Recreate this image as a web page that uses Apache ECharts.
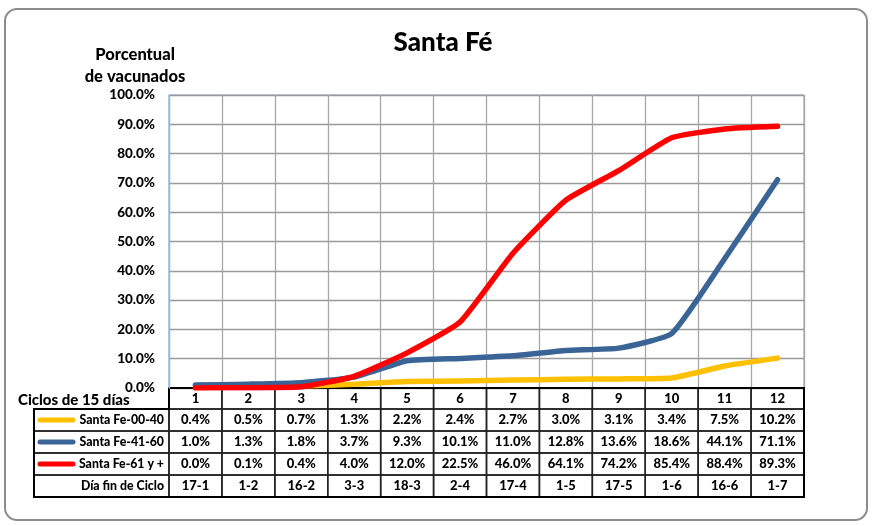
<!DOCTYPE html>
<html>
<head>
<meta charset="utf-8">
<script src="https://cdn.jsdelivr.net/npm/echarts@6/dist/echarts.min.js"></script>
<style>
  html, body { margin: 0; padding: 0; background: #fff; }
  #chart { width: 872px; height: 526px; }
</style>
</head>
<body>
<div id="chart"></div>
<script>
// datos
const ciclos = ['1', '2', '3', '4', '5', '6', '7', '8', '9', '10', '11', '12'];
const diaFinCiclo = ['17-1', '1-2', '16-2', '3-3', '18-3', '2-4', '17-4', '1-5', '17-5', '1-6', '16-6', '1-7'];
const santaFe0040 = [0.4, 0.5, 0.7, 1.3, 2.2, 2.4, 2.7, 3.0, 3.1, 3.4, 7.5, 10.2];
const santaFe4160 = [1.0, 1.3, 1.8, 3.7, 9.3, 10.1, 11.0, 12.8, 13.6, 18.6, 44.1, 71.1];
const santaFe61 = [0.0, 0.1, 0.4, 4.0, 12.0, 22.5, 46.0, 64.1, 74.2, 85.4, 88.4, 89.3];
const serieNames = ['Santa Fe-00-40', 'Santa Fe-41-60', 'Santa Fe-61 y +'];
const serieColors = ['#FFC000', '#3A6496', '#FF0000'];
const yMin = 0, yMax = 100, yStep = 10;

const FONT = 'Lato';
const W = 900;
const gridL = 169, gridR = 804, gridT = 95, gridB = 388;

const chart = echarts.init(document.getElementById('chart'));

const allSeries = [santaFe0040, santaFe4160, santaFe61];

chart.setOption({
  animation: false,
  backgroundColor: '#fff',
  title: {
    text: 'Santa Fé',
    left: 438,
    top: 25,
    textAlign: 'center',
    textStyle: { fontFamily: FONT, fontSize: 26, fontWeight: W, color: '#000' }
  },
  grid: {
    left: gridL,
    right: 872 - gridR,
    top: gridT,
    bottom: 526 - gridB,
    show: true,
    borderColor: '#7f9cc8',
    borderWidth: 1
  },
  xAxis: {
    type: 'category',
    data: ciclos,
    boundaryGap: true,
    axisLine: { show: false },
    axisTick: { show: false },
    axisLabel: { show: false },
    splitLine: { show: true, lineStyle: { color: '#a6a6a6', width: 1.3 } }
  },
  yAxis: {
    type: 'value',
    min: yMin,
    max: yMax,
    interval: yStep,
    axisLine: { show: true, lineStyle: { color: '#9ab8dc', width: 1.3 } },
    axisTick: { show: false },
    axisLabel: {
      margin: 14,
      fontFamily: FONT,
      fontSize: 13.5,
      fontWeight: W,
      color: '#000',
      formatter: v => v.toFixed(1) + '%'
    },
    splitLine: { lineStyle: { color: '#999', width: 1.3 } }
  },
  series: allSeries.map((d, i) => ({
    name: serieNames[i],
    type: 'line',
    data: d,
    smooth: 0.15,
    symbol: 'none',
    z: 2 + i,
    lineStyle: { color: serieColors[i], width: 5.5, cap: 'round', join: 'round' }
  }))
});

// tabla de datos bajo el grafico
const colW = (gridR - gridL) / ciclos.length;
const headTop = gridB, headH = 21;
const rowH = 22;
const tblLeft = 34;
const g = [];
const txt = { fontFamily: FONT, fontSize: 13, fontWeight: W, fill: '#000' };

// encabezado de ciclos
ciclos.forEach((c, i) => {
  const x = gridL + i * colW;
  g.push({ type: 'rect', shape: { x: x, y: headTop, width: colW, height: headH },
    style: { fill: 'none', stroke: '#222', lineWidth: 1.5 } });
  g.push({ type: 'text', x: x + colW / 2, y: headTop + headH / 2,
    style: Object.assign({ text: c, align: 'center', verticalAlign: 'middle' }, txt) });
});

const rows = allSeries.map((d, i) => ({ label: serieNames[i], color: serieColors[i], cells: d.map(v => v.toFixed(1) + '%') }));
rows.push({ label: 'Día fin de Ciclo', color: null, cells: diaFinCiclo });

rows.forEach((r, ri) => {
  const y = headTop + headH + ri * rowH;
  g.push({ type: 'rect', shape: { x: tblLeft, y: y, width: gridL - tblLeft, height: rowH },
    style: { fill: 'none', stroke: '#222', lineWidth: 1.5 } });
  if (r.color) {
    g.push({ type: 'line', shape: { x1: 40, y1: y + rowH / 2, x2: 73, y2: y + rowH / 2 },
      style: { stroke: r.color, lineWidth: 5, lineCap: 'round' } });
  }
  g.push({ type: 'text', x: gridL - 5, y: y + rowH / 2,
    style: Object.assign({}, txt, { text: r.label, fontSize: 12.3, align: 'right', verticalAlign: 'middle' }) });
  r.cells.forEach((c, ci) => {
    const x = gridL + ci * colW;
    g.push({ type: 'rect', shape: { x: x, y: y, width: colW, height: rowH },
      style: { fill: 'none', stroke: '#222', lineWidth: 1.5 } });
    g.push({ type: 'text', x: x + colW / 2, y: y + rowH / 2,
      style: Object.assign({ text: c, align: 'center', verticalAlign: 'middle' }, txt) });
  });
});

// bordes exteriores de la tabla
const tblBottom = headTop + headH + rows.length * rowH;
g.push({ type: 'polyline', shape: { points: [[gridL, headTop], [gridR, headTop], [gridR, tblBottom], [tblLeft, tblBottom], [tblLeft, headTop + headH], [gridL, headTop + headH], [gridL, headTop]] },
  style: { fill: 'none', stroke: '#000', lineWidth: 2 } });

// textos sueltos
g.push({ type: 'text', x: 135, y: 55, style: Object.assign({}, txt, { text: 'Porcentual', fontSize: 16.5, align: 'center', verticalAlign: 'middle' }) });
g.push({ type: 'text', x: 135, y: 77, style: Object.assign({}, txt, { text: 'de vacunados', fontSize: 16.5, align: 'center', verticalAlign: 'middle' }) });
g.push({ type: 'text', x: 18, y: 400, style: Object.assign({}, txt, { text: 'Ciclos de 15 días', fontSize: 15, align: 'left', verticalAlign: 'middle' }) });

// marco del grafico
g.push({ type: 'rect', z: -1, shape: { x: 5, y: 9, width: 862, height: 511, r: 12 },
  style: { fill: 'none', stroke: '#8c8c8c', lineWidth: 2 } });

chart.setOption({ graphic: g });
</script>
</body>
</html>
